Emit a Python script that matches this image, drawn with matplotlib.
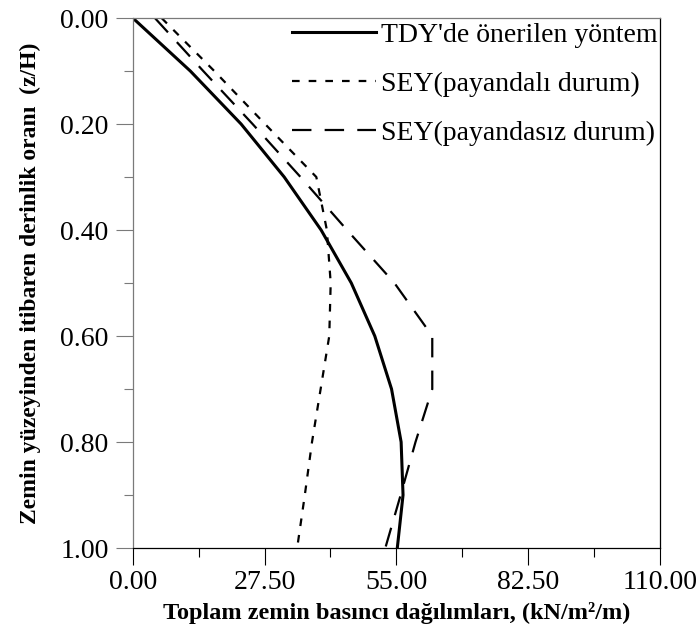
import matplotlib.pyplot as plt
from matplotlib.ticker import MultipleLocator, FormatStrFormatter

# depth ratio z/H and lateral pressure values
depth = [0.0, 0.1, 0.2, 0.3, 0.4, 0.5, 0.6, 0.7, 0.8, 0.9, 1.0]
tdy = [0.0, 12.0, 22.6, 31.6, 39.3, 45.6, 50.5, 54.0, 56.0, 56.4, 55.2]
sey_payandali = [6.0, 17.0, 27.6, 38.3, 40.5, 41.3, 41.0, 39.2, 37.4, 35.9, 34.3]
sey_payandasiz = [4.6, 14.7, 25.0, 35.0, 44.7, 54.6, 62.5, 62.5, 59.0, 55.9, 52.7]

labels = ["TDY'de önerilen yöntem", "SEY(payandalı durum)", "SEY(payandasız durum)"]
x_ticks = [0.0, 27.5, 55.0, 82.5, 110.0]

plt.rcParams['font.family'] = ['Liberation Serif', 'DejaVu Serif']
plt.rcParams['lines.scale_dashes'] = False

fig = plt.figure(figsize=(6.99, 6.34), dpi=100)
ax = fig.add_axes([0.190, 0.1356, 0.754, 0.836])

ax.plot(tdy, depth, color='black', lw=2.2, label=labels[0])
ax.plot(sey_payandali, depth, color='black', lw=1.6, linestyle=(0, (5.5, 6.5)), label=labels[1])
ax.plot(sey_payandasiz, depth, color='black', lw=1.6, linestyle=(0, (14, 9.5)), label=labels[2])

ax.set_xlim(0, 110)
ax.set_ylim(1.0, 0.0)
ax.set_xticks(x_ticks)
ax.xaxis.set_major_formatter(FormatStrFormatter('%.2f'))
ax.xaxis.set_minor_locator(MultipleLocator(13.75))
ax.yaxis.set_major_locator(MultipleLocator(0.2))
ax.yaxis.set_minor_locator(MultipleLocator(0.1))
ax.yaxis.set_major_formatter(FormatStrFormatter('%.2f'))

ax.tick_params(axis='both', which='major', direction='out', length=12.5, width=0.8, labelsize=20)
ax.tick_params(axis='both', which='minor', direction='out', length=6.5, width=0.8)
ax.tick_params(axis='y', which='both', color='#7a7a7a', pad=5)
ax.tick_params(axis='x', which='both', pad=3)

for side in ['left', 'top']:
    ax.spines[side].set_color('#7a7a7a')
for side in ax.spines:
    ax.spines[side].set_linewidth(0.9)

ax.set_xlabel('Toplam zemin basıncı dağılımları, (kN/m²/m)', fontsize=17.5, fontweight='bold', labelpad=5)
ax.set_ylabel('Zemin yüzeyinden itibaren derinlik oranı  (z/H)', fontsize=17, fontweight='bold', labelpad=14)

ax.legend(loc='upper left', bbox_to_anchor=(0.295, 1.0), frameon=False, fontsize=20,
          handlelength=3.0, handletextpad=0.2, labelspacing=0.85, borderaxespad=0.0, borderpad=0.15)

fig.savefig('out.png', dpi=100)
